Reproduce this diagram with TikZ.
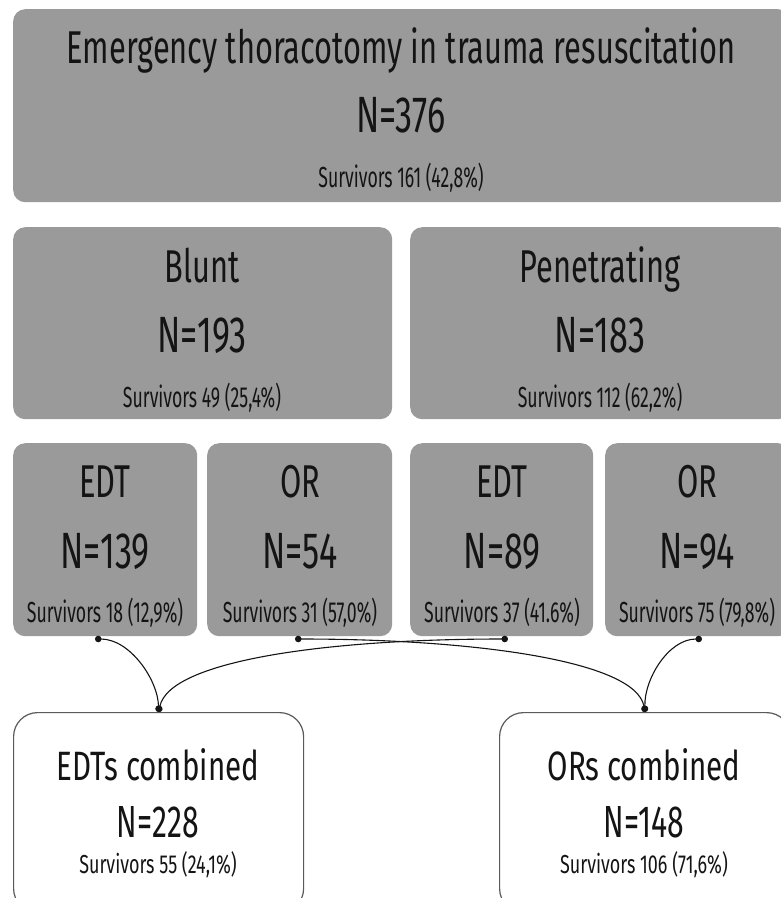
\documentclass[tikz,border=0pt]{standalone}
\usepackage{fontspec}
\setmainfont[FakeStretch=0.6]{Fira Sans}
\newfontfamily\headfont[FakeStretch=0.67]{Fira Sans}
\newfontfamily\notefont[FakeStretch=0.61]{Fira Sans}
\newfontfamily\groupfont[FakeStretch=0.72]{Fira Sans}
\newfontfamily\groupnotefont[FakeStretch=0.69]{Fira Sans}
\usetikzlibrary{arrows.meta}
\definecolor{boxgray}{RGB}{154,154,154}
\definecolor{ink}{RGB}{20,20,20}
\definecolor{edgegray}{RGB}{90,90,90}
\tikzset{
  graybox/.style={fill=boxgray, draw=none, rounded corners=12pt, anchor=north west, inner sep=0pt},
  whitebox/.style={fill=white, draw=edgegray, line width=1.2pt, rounded corners=24pt, anchor=north west, inner sep=0pt},
  lbl/.style={anchor=base, inner sep=0pt, text=ink},
  ttl/.style={lbl, font=\headfont\fontsize{46}{50}\selectfont},
  cnt/.style={lbl, font=\headfont\fontsize{51}{55}\selectfont},
  surv/.style={lbl, font=\notefont\fontsize{29}{32}\selectfont},
  ttlb/.style={lbl, font=\groupfont\fontsize{41}{45}\selectfont},
  cntb/.style={lbl, font=\headfont\fontsize{45}{48}\selectfont},
  survb/.style={lbl, font=\groupnotefont\fontsize{26}{29}\selectfont},
  link/.style={draw=ink, line width=1.1pt, {Circle[length=6.5pt]}-{Circle[length=6.5pt]}}
}
\begin{document}
\begin{tikzpicture}[x=1pt,y=-1pt]
\useasboundingbox (0,0) rectangle (781,898);
\clip (0,0) rectangle (781,898);

% total
\node[graybox, minimum width=777pt, minimum height=193pt] (top) at (13,9) {};
\node[ttl]  (topt) at (401,63)  {Emergency thoracotomy in trauma resuscitation};
\node[cnt]  (topn) at (401,132) {N=376};
\node[surv] (tops) at (401,187) {Survivors 161 (42,8\%)};

% mechanism
\node[graybox, minimum width=379pt, minimum height=192pt] (blunt) at (13,227) {};
\node[ttl]  (bluntt) at (202,282) {Blunt};
\node[cnt]  (bluntn) at (202,352) {N=193};
\node[surv] (blunts) at (202,407) {Survivors 49 (25,4\%)};

\node[graybox, minimum width=380pt, minimum height=192pt] (pen) at (410,227) {};
\node[ttl]  (pent) at (600,282) {Penetrating};
\node[cnt]  (penn) at (600,352) {N=183};
\node[surv] (pens) at (600,407) {Survivors 112 (62,2\%)};

% location
\node[graybox, minimum width=184pt, minimum height=193pt] (edt1) at (13,443) {};
\node[ttl]  (edt1t) at (105,497) {EDT};
\node[cnt]  (edt1n) at (105,568) {N=139};
\node[surv] (edt1s) at (105,622) {Survivors 18 (12,9\%)};

\node[graybox, minimum width=185pt, minimum height=193pt] (or1) at (207,443) {};
\node[ttl]  (or1t) at (300,497) {OR};
\node[cnt]  (or1n) at (300,568) {N=54};
\node[surv] (or1s) at (300,622) {Survivors 31 (57,0\%)};

\node[graybox, minimum width=183pt, minimum height=193pt] (edt2) at (410,443) {};
\node[ttl]  (edt2t) at (502,497) {EDT};
\node[cnt]  (edt2n) at (502,568) {N=89};
\node[surv] (edt2s) at (502,622) {Survivors 37 (41.6\%)};

\node[graybox, minimum width=185pt, minimum height=193pt] (or2) at (605,443) {};
\node[ttl]  (or2t) at (697,497) {OR};
\node[cnt]  (or2n) at (697,568) {N=94};
\node[surv] (or2s) at (697,622) {Survivors 75 (79,8\%)};

% combined groups
\node[whitebox, minimum width=290pt, minimum height=200pt] (edtc) at (13,712) {};
\node[ttlb]  (edtct) at (158,780) {EDTs combined};
\node[cntb]  (edtcn) at (158,837) {N=228};
\node[survb] (edtcs) at (158,873) {Survivors 55 (24,1\%)};

\node[whitebox, minimum width=291pt, minimum height=200pt] (orc) at (499,712) {};
\node[ttlb]  (orct) at (644,780) {ORs combined};
\node[cntb]  (orcn) at (644,837) {N=148};
\node[survb] (orcs) at (644,873) {Survivors 106 (71,6\%)};

% link anchors under the location boxes
\coordinate (e1) at (95,639);
\coordinate (o1) at (295,639);
\coordinate (e2) at (508,639);
\coordinate (o2) at (702,639);

\draw[link] (e1) .. controls (130,639) and (158,680) .. (edtc.north);
\draw[link] (e2) .. controls (330,639) and (170,660) .. (edtc.north);
\draw[link] (o1) .. controls (470,639) and (635,660) .. (orc.north);
\draw[link] (o2) .. controls (668,639) and (644,680) .. (orc.north);
\end{tikzpicture}
\end{document}
